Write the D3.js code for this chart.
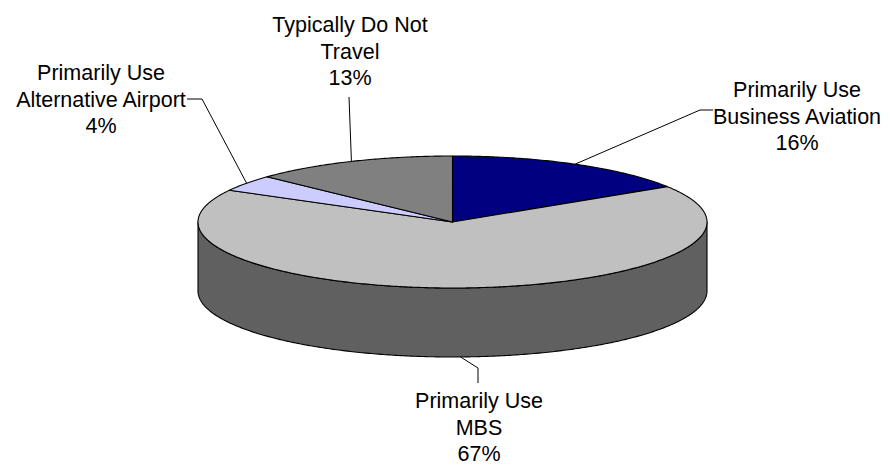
<!DOCTYPE html>
<html>
<head>
<meta charset="utf-8">
<script src="https://cdn.jsdelivr.net/npm/d3@7"></script>
<style>
  html, body { margin: 0; padding: 0; background: #ffffff; }
  svg { display: block; }
</style>
</head>
<body>
<svg id="chart" width="890" height="466"></svg>
<script>
// Survey shares: how respondents travel
const categories = [
  "Primarily Use|Business Aviation",
  "Primarily Use|MBS",
  "Primarily Use|Alternative Airport",
  "Typically Do Not|Travel"
];
const values = [16, 67, 4, 13];
const colors = ["#000080", "#c0c0c0", "#ccccff", "#808080"];
const sideColors = ["#000040", "#606060", "#6666a0", "#404040"];

// Label placement: text centre / first baseline, plus leader elbow points (label end first)
const labelLayout = [
  { x: 797, y: 97,  leader: [[713, 110], [700, 110]] },
  { x: 479, y: 408, leader: [[478, 383], [478, 368]] },
  { x: 101, y: 80,  leader: [[187, 99], [202, 99]] },
  { x: 350, y: 32,  leader: [[349, 97]] }
];

const W = 890, H = 466;
const cx = 452.5, cy = 222, rx = 254.5, ry = 66, depth = 69;
const fontSize = 21.5, lineGap = 26.6;

const svg = d3.select("#chart");

const pie = d3.pie().sort(null).value(d => d).startAngle(0).endAngle(2 * Math.PI);
const arcs = pie(values);

// Project an angle (clockwise from 12 o'clock) onto the tilted ellipse
function proj(a, z) {
  return [cx + rx * Math.sin(a), cy - ry * Math.cos(a) + (z || 0)];
}
function arcPoints(a0, a1, z) {
  const n = Math.max(2, Math.ceil(Math.abs(a1 - a0) / 0.01));
  return d3.range(n + 1).map(i => proj(a0 + (a1 - a0) * i / n, z));
}
const line = d3.line();

// Side wall: only the front half (between 3 o'clock and 9 o'clock) is visible
const gSide = svg.append("g");
arcs.forEach((d, i) => {
  const a = Math.max(d.startAngle, Math.PI / 2);
  const b = Math.min(d.endAngle, 3 * Math.PI / 2);
  if (b <= a) return;
  const pts = arcPoints(a, b, 0).concat(arcPoints(b, a, depth));
  gSide.append("path")
    .attr("d", line(pts) + "Z")
    .attr("fill", sideColors[i])
    .attr("stroke", "#000")
    .attr("stroke-width", 1.1)
    .attr("stroke-linejoin", "round");
});

// Top face slices
const gTop = svg.append("g");
arcs.forEach((d, i) => {
  const pts = [[cx, cy]].concat(arcPoints(d.startAngle, d.endAngle, 0));
  gTop.append("path")
    .attr("d", line(pts) + "Z")
    .attr("fill", colors[i])
    .attr("stroke", "#000")
    .attr("stroke-width", 1.1)
    .attr("stroke-linejoin", "round");
});

// Leader lines from each label to the rim at the slice's mid angle
const gLead = svg.append("g");
arcs.forEach((d, i) => {
  const mid = (d.startAngle + d.endAngle) / 2;
  const front = Math.cos(mid) < 0;
  const anchor = proj(mid, front ? depth : 0);
  const pts = labelLayout[i].leader.concat([anchor]);
  gLead.append("path")
    .attr("d", line(pts))
    .attr("fill", "none")
    .attr("stroke", "#000")
    .attr("stroke-width", 1);
});

// Labels: category lines and the percentage
const gLab = svg.append("g")
  .attr("font-family", "'Liberation Sans', Arial, sans-serif")
  .attr("font-size", fontSize)
  .attr("fill", "#000")
  .attr("text-anchor", "middle");
arcs.forEach((d, i) => {
  const lines = categories[i].split("|").concat([values[i] + "%"]);
  const t = gLab.append("text");
  lines.forEach((s, k) => {
    t.append("tspan")
      .attr("x", labelLayout[i].x)
      .attr("y", labelLayout[i].y + k * lineGap)
      .text(s);
  });
});
</script>
</body>
</html>
